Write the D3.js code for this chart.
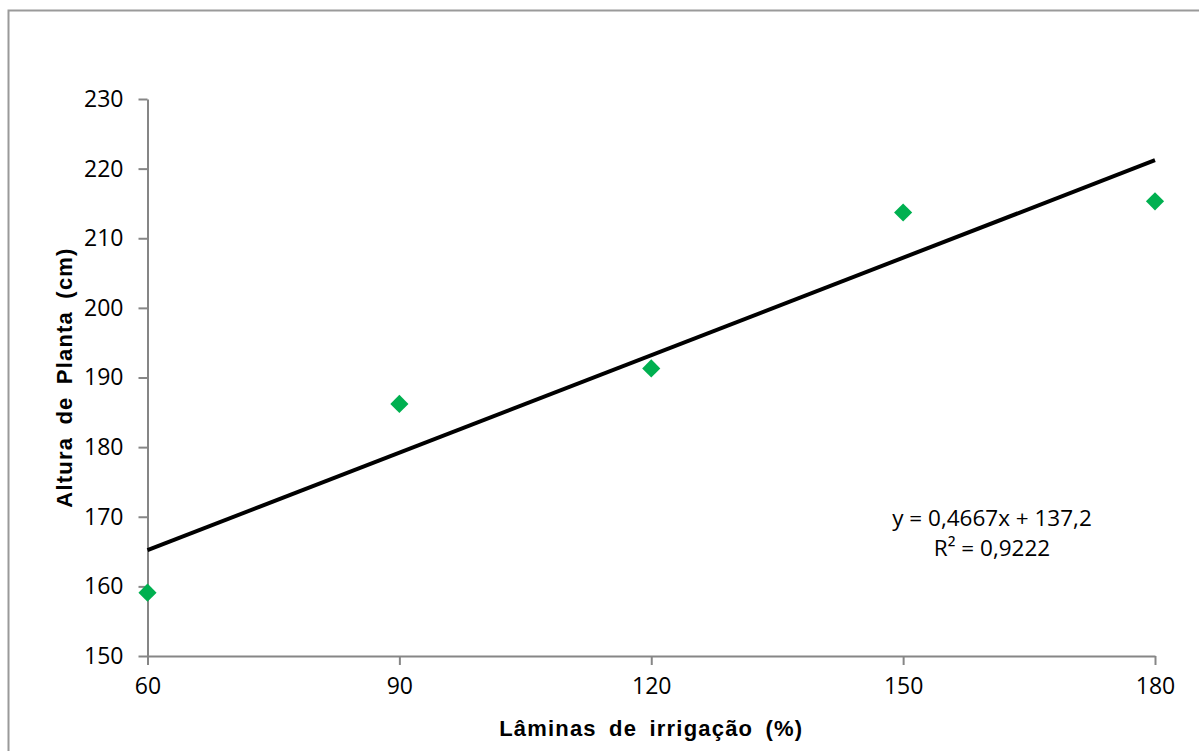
<!DOCTYPE html>
<meta charset="utf-8">
<style>
body { margin: 0; background: #fff; }
.axis path, .axis line { stroke: #868686; stroke-width: 2; }
.axis text { font-family: "Open Sans", sans-serif; font-size: 23px; fill: #000; }
.title { font-family: "Liberation Sans", Arial, sans-serif; font-weight: bold; font-size: 22px; }
.eq { font-family: "Open Sans", sans-serif; font-size: 22.5px; }
</style>
<div id="viz"></div>
<script src="https://d3js.org/d3.v7.min.js"></script>
<script>
// data
var laminas = [60, 90, 120, 150, 180];
var altura = [159.1, 186.2, 191.3, 213.7, 215.3];
var xTicks = [60, 90, 120, 150, 180];
var yTicks = [150, 160, 170, 180, 190, 200, 210, 220, 230];
var slope = 0.4667, intercept = 137.2;
var eqLines = ["y = 0,4667x + 137,2", "R² = 0,9222"];

var W = 1199, H = 751;
var margin = {top: 99, right: 44, bottom: 95, left: 147.5};
var width = W - margin.left - margin.right;
var height = H - margin.top - margin.bottom;

var root = d3.select('#viz').append('svg')
    .attr('width', W)
    .attr('height', H);

// outer frame
root.append('rect')
    .attr('x', 8.5).attr('y', 10.5)
    .attr('width', W + 20).attr('height', H + 20)
    .attr('fill', 'none')
    .attr('stroke', '#9a9a9a')
    .attr('stroke-width', 2);

var svg = root.append('g')
    .attr('transform', 'translate(' + margin.left + ',' + margin.top + ')');

var x = d3.scaleLinear().domain([60, 180]).range([0, width]);
var y = d3.scaleLinear().domain([150, 230]).range([height, 0]);

svg.append('g')
    .attr('class', 'axis')
    .attr('transform', 'translate(0,' + height + ')')
    .call(d3.axisBottom(x).tickValues(xTicks).tickSize(9).tickSizeOuter(0).tickPadding(13))

svg.append('g')
    .attr('class', 'axis')
    .call(d3.axisLeft(y).tickValues(yTicks).tickSize(9).tickSizeOuter(0).tickPadding(15))

// trend line
svg.append('line')
    .attr('x1', x(60)).attr('y1', y(slope * 60 + intercept))
    .attr('x2', x(180)).attr('y2', y(slope * 180 + intercept))
    .attr('stroke', '#000')
    .attr('stroke-width', 4);

// diamonds
svg.append('g')
    .selectAll('path')
    .data(laminas)
    .enter()
    .append('path')
    .attr('d', d3.symbol().type(d3.symbolSquare).size(165))
    .attr('transform', function(d, i) { return 'translate(' + x(d) + ',' + y(altura[i]) + ') rotate(45)'; })
    .attr('fill', '#00b050');

// equation
svg.append('g')
    .selectAll('text')
    .data(eqLines)
    .enter()
    .append('text')
    .attr('class', 'eq')
    .attr('x', 844.5)
    .attr('y', function(d, i) { return 427 + i * 30; })
    .attr('text-anchor', 'middle')
    .text(function(d) { return d; });

// axis titles
svg.append('text')
    .attr('class', 'title')
    .attr('x', width / 2)
    .attr('y', height + 80)
    .attr('text-anchor', 'middle')
    .attr('letter-spacing', 1.2)
    .attr('word-spacing', 5)
    .text('Lâminas de irrigação (%)');

svg.append('text')
    .attr('class', 'title')
    .attr('transform', 'translate(' + (-75.5) + ',' + (height / 2) + ') rotate(-90)')
    .attr('text-anchor', 'middle')
    .attr('letter-spacing', 1.2)
    .attr('word-spacing', 5)
    .text('Altura de Planta (cm)');
</script>
